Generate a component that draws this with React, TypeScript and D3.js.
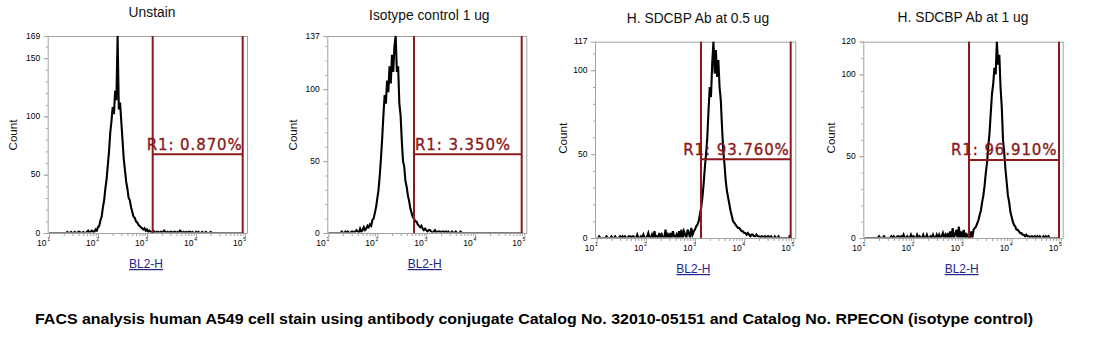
import React from "react";
import * as d3 from "d3";

// ---------- data ----------
const titles = ["Unstain", "Isotype control 1 ug", "H. SDCBP Ab at 0.5 ug", "H. SDCBP Ab at 1 ug"];
const yMax = [169, 137, 117, 120];
const yTickLabels = [
  [0, 50, 100, 150, 169],
  [0, 50, 100, 137],
  [0, 50, 100, 117],
  [0, 50, 100, 120],
];
const xTickExps = [1, 2, 3, 4, 5];
const xLabel = "BL2-H";
const yLabel = "Count";
const gateLow = [1306, 561, 1324, 1356];
const gateHigh = [89700, 88500, 88500, 92300];
const gateLevel = [67.5, 54.7, 46.9, 47.7];
const gateLabels = ["R1: 0.870%", "R1: 3.350%", "R1: 93.760%", "R1: 96.910%"];
const caption =
  "FACS analysis human A549 cell stain using antibody conjugate Catalog No. 32010-05151 and Catalog No. RPECON (isotype control)";

// histogram channels: log10 start 1, step 0.025 decade
const binStartLog = 1;
const binStep = 0.025;

const countsUnstain = [
  0, 0, 0, 0, 0, 0, 0, 0, 0, 0,
  0, 0, 0, 0, 0, 1, 0, 0, 1, 0,
  0, 1, 0, 0, 1, 1, 0, 0, 1, 0,
  0, 1, 2, 0, 1, 2, 1,
  1, 3, 2, 5, 6, 11, 14, 22, 28, 38, 46, 58, 70, 86, 96, 108, 102, 122, 114, 169,
  106, 112, 96, 80, 64, 54, 44, 38, 30, 28, 22, 18, 14, 13, 10, 9, 7, 6, 5, 4, 3, 4, 2,
  3, 1, 2, 1, 0, 2, 1, 0, 1, 1,
  0, 1, 1, 0, 2, 1, 0, 1, 0, 1,
  1, 0, 1, 1, 0, 1, 0, 2, 1, 0,
  1, 0, 1, 0, 1, 1, 0, 1, 0, 0,
  1, 0, 1, 0, 0, 1, 0, 0, 1, 0,
  0, 0, 1, 0, 0, 0, 0, 0, 0, 0,
  0, 0, 0, 0, 0, 0, 0, 0, 0, 0,
  0, 0, 0, 0, 0, 0, 0, 0, 0, 0,
];

const countsIsotype = [
  0, 0, 0, 0, 0, 0, 0, 0, 0, 0, 0,
  1, 0, 0, 1, 0, 1, 0, 0, 1, 1,
  0, 1, 2, 1, 0, 3, 1, 2, 4, 2,
  3, 5, 4, 6, 5, 9, 10, 14, 18, 24, 30, 40, 52,
  66, 82, 96, 90, 106, 98, 116, 104, 124, 112, 130, 137,
  112, 116, 90, 82, 64, 50, 46, 36, 32, 26, 22, 17, 14, 11, 10, 8, 8, 6, 5, 4, 5, 3, 2, 3, 2,
  1, 2, 2, 1, 0, 1, 2, 0, 1, 1,
  1, 0, 1, 1, 0, 1, 0, 1, 0, 0,
  1, 0, 0, 1, 0, 0, 0, 1, 0, 0,
  0, 0, 0, 0, 0, 0, 0, 0, 0, 0,
  0, 0, 0, 0, 0, 0, 0, 0, 0, 0,
  0, 0, 0, 0, 0, 0, 0, 0, 0, 0,
  0, 0, 0, 0, 0, 0, 0, 0, 0, 0,
  0, 0, 0, 0, 0, 0, 0, 0, 0,
];

const countsSdcbp05 = [
  0, 0, 1, 0, 0, 0, 0, 0, 1, 0,
  0, 0, 1, 0, 0, 1, 0, 0, 0, 1,
  0, 1, 0, 1, 0, 0, 1, 1, 0, 1,
  1, 0, 0, 2, 0, 0, 1, 0, 2, 0,
  0, 1, 3, 0, 0, 2, 0, 4, 0, 1,
  0, 3, 0, 2, 0, 0, 5, 0, 2, 0,
  3, 0, 4, 1, 0, 2, 0, 4, 0, 5,
  0, 4, 2, 0, 5, 3, 0, 6, 2, 4,
  5, 7, 8, 10, 14, 18, 24, 32, 42, 50,
  60, 76, 90, 84, 104, 117, 98, 112, 96, 106,
  90, 82, 66, 52, 44, 34, 28, 24, 20, 16,
  13, 10, 9, 8, 7, 6, 6, 5, 4, 4,
  3, 3, 2, 3, 2, 1, 2, 2, 1, 1,
  2, 1, 1, 0, 1, 1, 0, 1, 0, 1,
  1, 0, 1, 0, 0, 1, 0, 0, 1, 0,
  0, 0, 0, 0, 0, 0, 0, 1, 0, 0,
];

const countsSdcbp1 = [
  0, 0, 0, 0, 0, 0, 0, 0, 0, 0,
  0, 0, 1, 0, 0, 0, 1, 0, 0, 0,
  0, 0, 1, 0, 1, 0, 0, 1, 1, 0,
  1, 0, 2, 0, 0, 1, 0, 0, 2, 0,
  1, 0, 0, 2, 0, 1, 0, 0, 2, 0,
  0, 2, 0, 0, 1, 0, 2, 0, 0, 2,
  0, 2, 0, 1, 3, 0, 2, 0, 3, 0,
  4, 0, 6, 0, 2, 5, 0, 7, 0, 4,
  0, 5, 0, 3, 0, 2, 0, 4, 0, 5,
  6, 7, 9, 11, 14, 17, 22, 26, 32, 40,
  46, 56, 64, 76, 88, 94, 104, 100, 120, 106,
  112, 92, 80, 60, 52, 42, 34, 26, 22, 16,
  13, 10, 8, 7, 5, 5, 4, 3, 3, 2,
  2, 1, 2, 1, 1, 0, 1, 1, 0, 1,
  0, 1, 0, 1, 0, 0, 1, 0, 1, 0,
  1, 0, 0, 0, 0, 0, 0, 0, 0, 0,
];

const series = [countsUnstain, countsIsotype, countsSdcbp05, countsSdcbp1];

// ---------- layout ----------
const layout = [
  { left: 47.7, top: 36, bottom: 233, x0: 49, x1: 245, titleX: 152, titleY: 17, countX: 17, countY: 135, xlabX: 146, xlabY: 268, gTextX: 146.7, gTextY: 150 },
  { left: 327.3, top: 36, bottom: 233, x0: 328.3, x1: 524.3, titleX: 429.3, titleY: 19.5, countX: 297, countY: 135, xlabX: 424.7, xlabY: 268, gTextX: 415, gTextY: 150 },
  { left: 595, top: 41.7, bottom: 238, x0: 596.7, x1: 793.3, titleX: 698, titleY: 22.5, countX: 566.5, countY: 138.3, xlabX: 693.3, xlabY: 273, gTextX: 683.3, gTextY: 155 },
  { left: 863.3, top: 41.7, bottom: 238, x0: 864.3, x1: 1060.7, titleX: 963, titleY: 21.5, countX: 834.5, countY: 138, xlabX: 961.7, xlabY: 273, gTextX: 951, gTextY: 155 },
];

const AXIS = "#a3a3a3";
const GATE = "#8c1a1a";
const SANS = "'Liberation Sans', Arial, sans-serif";

function Panel({ i }: { i: number }) {
  const L = layout[i];
  const x = d3.scaleLog().domain([10, 1e5]).range([L.x0, L.x1]);
  const y = d3.scaleLinear().domain([0, yMax[i]]).range([L.bottom, L.top]);
  const right = L.x1 + 2.5;
  const counts = series[i];
  const line = d3
    .line<number>()
    .x((_, k) => x(Math.pow(10, binStartLog + k * binStep)))
    .y((d) => y(d));
  const minorY = d3.range(0, yMax[i] + 0.001, 10);
  const minorX: number[] = [];
  for (let d = 1; d < 5; d++) for (let m = 2; m <= 9; m++) minorX.push(m * Math.pow(10, d));
  const clipId = `clip${i}`;
  const gl = x(gateLow[i]);
  const gh = x(gateHigh[i]);
  const gy = y(gateLevel[i]);
  return (
    <g>
      <defs>
        <clipPath id={clipId}>
          <rect x={L.left} y={L.top - 1} width={right - L.left} height={L.bottom - L.top + 0.4} />
        </clipPath>
      </defs>
      <text x={L.titleX} y={L.titleY} textAnchor="middle" fontFamily={SANS} fontSize={13.8} fill="#111">
        {titles[i]}
      </text>
      {/* frame */}
      <line x1={L.left} x2={right} y1={L.top + 0.5} y2={L.top + 0.5} stroke={AXIS} />
      <line x1={right} x2={right} y1={L.top} y2={L.bottom} stroke={AXIS} />
      {/* histogram */}
      <path d={line(counts) || ""} fill="none" stroke="#000" strokeWidth={2.1} strokeLinejoin="miter" clipPath={`url(#${clipId})`} />
      {/* axes */}
      <line x1={L.left + 0.5} x2={L.left + 0.5} y1={L.top} y2={L.bottom + 0.5} stroke={AXIS} />
      <line x1={L.left} x2={right} y1={L.bottom + 0.5} y2={L.bottom + 0.5} stroke={AXIS} />
      {minorY.map((v) => (
        <line key={"my" + v} x1={L.left - 2} x2={L.left} y1={y(v) + 0.5} y2={y(v) + 0.5} stroke={AXIS} />
      ))}
      {yTickLabels[i].map((v) => (
        <g key={"yt" + v}>
          <line x1={L.left - 4} x2={L.left} y1={y(v) + 0.5} y2={y(v) + 0.5} stroke={AXIS} />
          <text x={L.left - 7.5} y={y(v) + 2.5} textAnchor="end" fontFamily={SANS} fontSize={8.5} fill="#000">
            {v}
          </text>
        </g>
      ))}
      {minorX.map((v) => (
        <line key={"mx" + v} x1={x(v) + 0.5} x2={x(v) + 0.5} y1={L.bottom + 0.5} y2={L.bottom + 3} stroke={AXIS} />
      ))}
      {xTickExps.map((e) => {
        const px = x(Math.pow(10, e));
        return (
          <g key={"xt" + e}>
            <line x1={px + 0.5} x2={px + 0.5} y1={L.bottom + 0.5} y2={L.bottom + 4.5} stroke={AXIS} />
            <text x={px - 2.5} y={L.bottom + 12.5} textAnchor="end" fontFamily={SANS} fontSize={8.5} fill="#000">
              10
            </text>
            <text x={px - 1.8} y={L.bottom + 7.5} fontFamily={SANS} fontSize={5} fill="#000">
              {e}
            </text>
          </g>
        );
      })}
      <text
        transform={`translate(${L.countX},${L.countY}) rotate(-90)`}
        textAnchor="middle"
        fontFamily={SANS}
        fontSize={11.6}
        fill="#111"
      >
        {yLabel}
      </text>
      <text x={L.xlabX} y={L.xlabY} textAnchor="middle" fontFamily={SANS} fontSize={12} fill="#24248a" textDecoration="underline">
        {xLabel}
      </text>
      {/* gate */}
      <line x1={gl} x2={gl} y1={L.top} y2={L.bottom} stroke={GATE} strokeWidth={2} />
      <line x1={gh} x2={gh} y1={L.top} y2={L.bottom} stroke={GATE} strokeWidth={2} />
      <line x1={gl} x2={gh} y1={gy} y2={gy} stroke={GATE} strokeWidth={2} />
      <text
        x={L.gTextX}
        y={L.gTextY}
        fontFamily="'DejaVu Sans', Verdana, sans-serif"
        fontSize={15}
        letterSpacing={0.9}
        fill={GATE}
        stroke={GATE}
        strokeWidth={0.35}
      >
        {gateLabels[i]}
      </text>
    </g>
  );
}

export default function App() {
  return (
    <svg width={1116} height={358} style={{ position: "absolute", left: 0, top: 0, background: "#fff" }}>
      <rect width={1116} height={358} fill="#fff" />
      {[0, 1, 2, 3].map((i) => (
        <Panel key={i} i={i} />
      ))}
      <text x={35} y={324} fontFamily={SANS} fontWeight="bold" fontSize={15.5} textLength={998} lengthAdjust="spacingAndGlyphs" fill="#000">
        {caption}
      </text>
    </svg>
  );
}
